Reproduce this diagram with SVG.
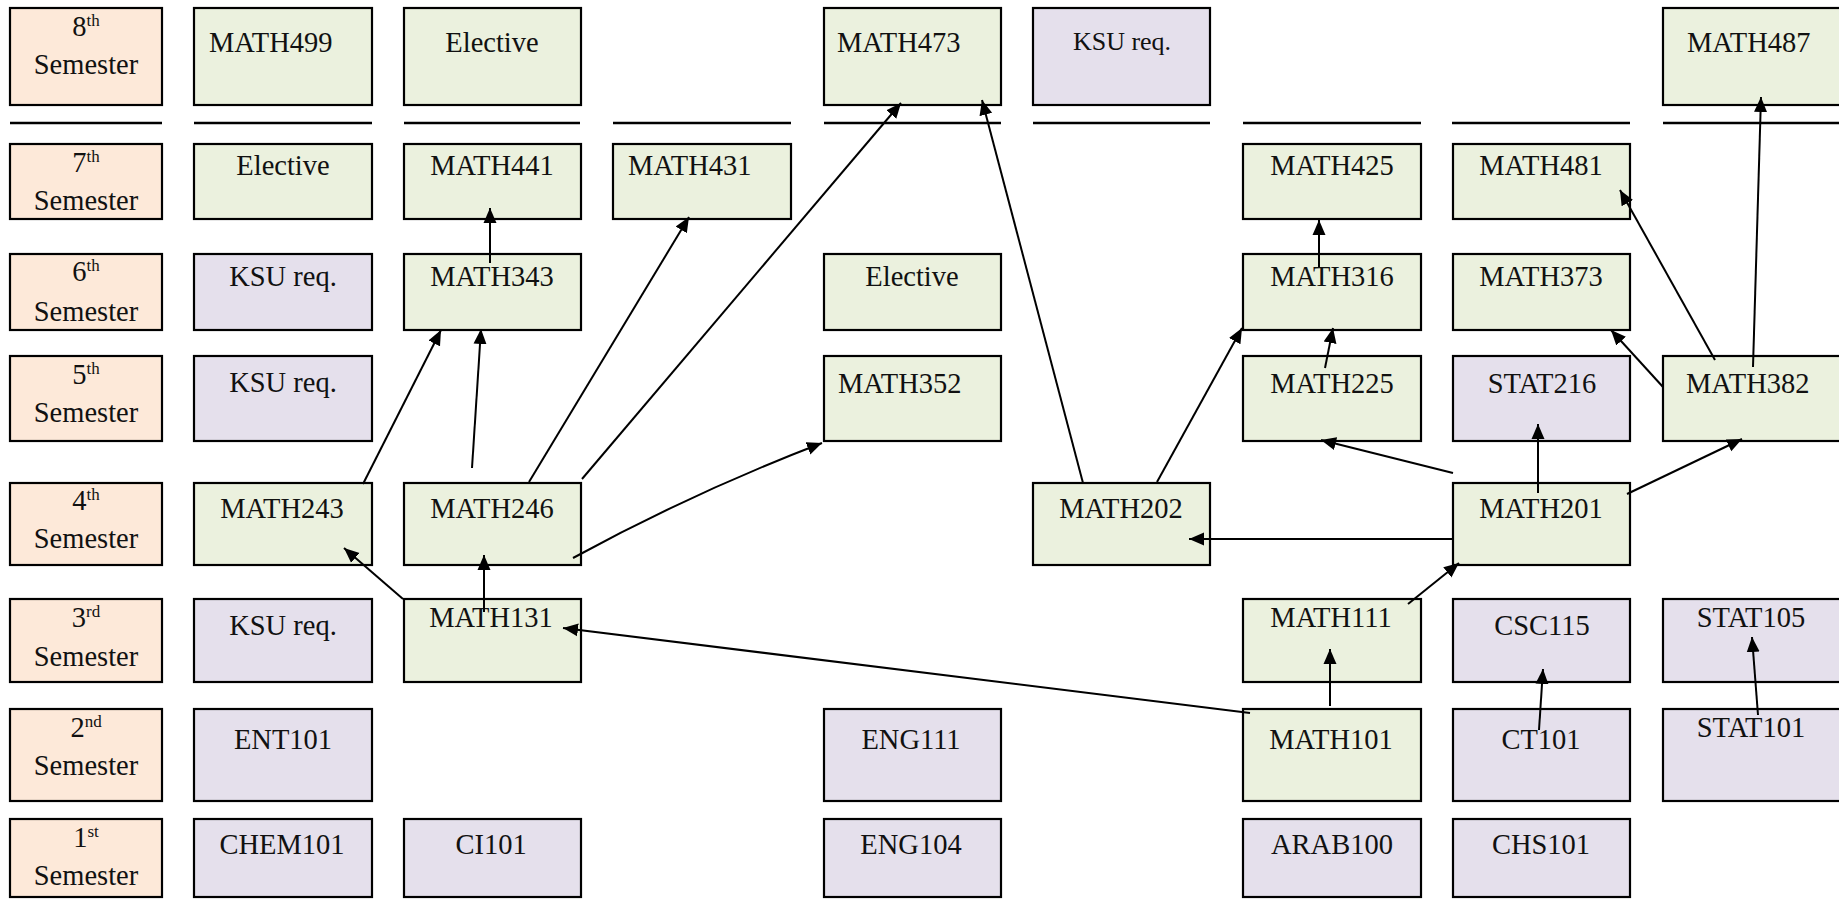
<svg xmlns="http://www.w3.org/2000/svg" width="1839" height="899" viewBox="0 0 1839 899">
<style>
rect{stroke:#000;stroke-width:2.2}
.sem rect{fill:#FDE9D9}
.g rect{fill:#EBF1DE}
.p rect{fill:#E5E0EC}
text{font-family:"Liberation Serif","Times New Roman",serif;font-size:28.5px;fill:#111}
.c{text-anchor:middle}
.sup{font-size:17px}
.sep line{stroke:#000;stroke-width:2.6}
#connectors line,#connectors path{stroke:#000;stroke-width:2;fill:none;marker-end:url(#ah)}
</style>
<defs>
<marker id="ah" markerUnits="userSpaceOnUse" markerWidth="16" markerHeight="14" refX="15" refY="7" orient="auto" viewBox="0 0 16 14">
<path d="M0,0.5 L15,7 L0,13.5 z" fill="#000"/>
</marker>
</defs>

<g class="sep">
<line x1="10" y1="123" x2="162" y2="123"/>
<line x1="194" y1="123" x2="372" y2="123"/>
<line x1="404" y1="123" x2="580" y2="123"/>
<line x1="613" y1="123" x2="791" y2="123"/>
<line x1="824" y1="123" x2="1001" y2="123"/>
<line x1="1033" y1="123" x2="1210" y2="123"/>
<line x1="1243" y1="123" x2="1421" y2="123"/>
<line x1="1452" y1="123" x2="1630" y2="123"/>
<line x1="1663" y1="123" x2="1839" y2="123"/>
</g>

<!-- Semester labels -->
<g id="sem8" class="sem"><rect x="10" y="8" width="152" height="97"/><text class="c" x="86" y="36">8<tspan class="sup" dy="-10">th</tspan></text><text class="c" x="86" y="74">Semester</text></g>
<g id="sem7" class="sem"><rect x="10" y="144" width="152" height="75"/><text class="c" x="86" y="172">7<tspan class="sup" dy="-10">th</tspan></text><text class="c" x="86" y="210">Semester</text></g>
<g id="sem6" class="sem"><rect x="10" y="254" width="152" height="76"/><text class="c" x="86" y="281">6<tspan class="sup" dy="-10">th</tspan></text><text class="c" x="86" y="321">Semester</text></g>
<g id="sem5" class="sem"><rect x="10" y="356" width="152" height="85"/><text class="c" x="86" y="384">5<tspan class="sup" dy="-10">th</tspan></text><text class="c" x="86" y="422">Semester</text></g>
<g id="sem4" class="sem"><rect x="10" y="483" width="152" height="82"/><text class="c" x="86" y="510">4<tspan class="sup" dy="-10">th</tspan></text><text class="c" x="86" y="548">Semester</text></g>
<g id="sem3" class="sem"><rect x="10" y="599" width="152" height="83"/><text class="c" x="86" y="627">3<tspan class="sup" dy="-10">rd</tspan></text><text class="c" x="86" y="666">Semester</text></g>
<g id="sem2" class="sem"><rect x="10" y="709" width="152" height="92"/><text class="c" x="86" y="737">2<tspan class="sup" dy="-10">nd</tspan></text><text class="c" x="86" y="775">Semester</text></g>
<g id="sem1" class="sem"><rect x="10" y="819" width="152" height="78"/><text class="c" x="86" y="847">1<tspan class="sup" dy="-10">st</tspan></text><text class="c" x="86" y="885">Semester</text></g>

<!-- Row 8 -->
<g id="MATH499" class="g"><rect x="194" y="8" width="178" height="97"/><text x="209" y="52">MATH499</text></g>
<g id="Elective8" class="g"><rect x="404" y="8" width="177" height="97"/><text class="c" x="492" y="52">Elective</text></g>
<g id="MATH473" class="g"><rect x="824" y="8" width="177" height="97"/><text x="837" y="52">MATH473</text></g>
<g id="KSU8" class="p"><rect x="1033" y="8" width="177" height="97"/><text class="c" x="1122" y="50" style="font-size:26px">KSU req.</text></g>
<g id="MATH487" class="g"><rect x="1663" y="8" width="178" height="97"/><text x="1687" y="52">MATH487</text></g>

<!-- Row 7 -->
<g id="Elective7" class="g"><rect x="194" y="144" width="178" height="75"/><text class="c" x="283" y="175">Elective</text></g>
<g id="MATH441" class="g"><rect x="404" y="144" width="177" height="75"/><text class="c" x="492" y="175">MATH441</text></g>
<g id="MATH431" class="g"><rect x="613" y="144" width="178" height="75"/><text x="628" y="175">MATH431</text></g>
<g id="MATH425" class="g"><rect x="1243" y="144" width="178" height="75"/><text class="c" x="1332" y="175">MATH425</text></g>
<g id="MATH481" class="g"><rect x="1453" y="144" width="177" height="75"/><text class="c" x="1541" y="175">MATH481</text></g>

<!-- Row 6 -->
<g id="KSU6" class="p"><rect x="194" y="254" width="178" height="76"/><text class="c" x="283" y="286">KSU req.</text></g>
<g id="MATH343" class="g"><rect x="404" y="254" width="177" height="76"/><text class="c" x="492" y="286">MATH343</text></g>
<g id="Elective6" class="g"><rect x="824" y="254" width="177" height="76"/><text class="c" x="912" y="286">Elective</text></g>
<g id="MATH316" class="g"><rect x="1243" y="254" width="178" height="76"/><text class="c" x="1332" y="286">MATH316</text></g>
<g id="MATH373" class="g"><rect x="1453" y="254" width="177" height="76"/><text class="c" x="1541" y="286">MATH373</text></g>

<!-- Row 5 -->
<g id="KSU5" class="p"><rect x="194" y="356" width="178" height="85"/><text class="c" x="283" y="392">KSU req.</text></g>
<g id="MATH352" class="g"><rect x="824" y="356" width="177" height="85"/><text x="838" y="393">MATH352</text></g>
<g id="MATH225" class="g"><rect x="1243" y="356" width="178" height="85"/><text class="c" x="1332" y="393">MATH225</text></g>
<g id="STAT216" class="p"><rect x="1453" y="356" width="177" height="85"/><text class="c" x="1542" y="393">STAT216</text></g>
<g id="MATH382" class="g"><rect x="1663" y="356" width="178" height="85"/><text x="1686" y="393">MATH382</text></g>

<!-- Row 4 -->
<g id="MATH243" class="g"><rect x="194" y="483" width="178" height="82"/><text class="c" x="282" y="518">MATH243</text></g>
<g id="MATH246" class="g"><rect x="404" y="483" width="177" height="82"/><text class="c" x="492" y="518">MATH246</text></g>
<g id="MATH202" class="g"><rect x="1033" y="483" width="177" height="82"/><text class="c" x="1121" y="518">MATH202</text></g>
<g id="MATH201" class="g"><rect x="1453" y="483" width="177" height="82"/><text class="c" x="1541" y="518">MATH201</text></g>

<!-- Row 3 -->
<g id="KSU3" class="p"><rect x="194" y="599" width="178" height="83"/><text class="c" x="283" y="635">KSU req.</text></g>
<g id="MATH131" class="g"><rect x="404" y="599" width="177" height="83"/><text class="c" x="491" y="627">MATH131</text></g>
<g id="MATH111" class="g"><rect x="1243" y="599" width="178" height="83"/><text class="c" x="1331" y="627">MATH111</text></g>
<g id="CSC115" class="p"><rect x="1453" y="599" width="177" height="83"/><text class="c" x="1542" y="635">CSC115</text></g>
<g id="STAT105" class="p"><rect x="1663" y="599" width="178" height="83"/><text class="c" x="1751" y="627">STAT105</text></g>

<!-- Row 2 -->
<g id="ENT101" class="p"><rect x="194" y="709" width="178" height="92"/><text class="c" x="283" y="749">ENT101</text></g>
<g id="ENG111" class="p"><rect x="824" y="709" width="177" height="92"/><text class="c" x="911" y="749">ENG111</text></g>
<g id="MATH101" class="g"><rect x="1243" y="709" width="178" height="92"/><text class="c" x="1331" y="749">MATH101</text></g>
<g id="CT101" class="p"><rect x="1453" y="709" width="177" height="92"/><text class="c" x="1541" y="749">CT101</text></g>
<g id="STAT101" class="p"><rect x="1663" y="709" width="178" height="92"/><text class="c" x="1751" y="737">STAT101</text></g>

<!-- Row 1 -->
<g id="CHEM101" class="p"><rect x="194" y="819" width="178" height="78"/><text class="c" x="282" y="854">CHEM101</text></g>
<g id="CI101" class="p"><rect x="404" y="819" width="177" height="78"/><text class="c" x="491" y="854">CI101</text></g>
<g id="ENG104" class="p"><rect x="824" y="819" width="177" height="78"/><text class="c" x="911" y="854">ENG104</text></g>
<g id="ARAB100" class="p"><rect x="1243" y="819" width="178" height="78"/><text class="c" x="1332" y="854">ARAB100</text></g>
<g id="CHS101" class="p"><rect x="1453" y="819" width="177" height="78"/><text class="c" x="1541" y="854">CHS101</text></g>

<g id="connectors">
<line x1="490" y1="263" x2="490" y2="208"/>
<line x1="363" y1="484" x2="441" y2="330"/>
<line x1="472" y1="468" x2="481" y2="329"/>
<line x1="529" y1="482" x2="689" y2="217"/>
<line x1="582" y1="479" x2="901" y2="103"/>
<path d="M573,558 Q692,493 822,443"/>
<line x1="403" y1="599" x2="344" y2="548"/>
<line x1="484" y1="612" x2="484" y2="555"/>
<line x1="1250" y1="713" x2="563" y2="628"/>
<line x1="1330" y1="706" x2="1330" y2="649"/>
<line x1="1408" y1="604" x2="1459" y2="563"/>
<line x1="1453" y1="539" x2="1189" y2="539"/>
<line x1="1453" y1="473" x2="1321" y2="440"/>
<line x1="1538" y1="493" x2="1538" y2="424"/>
<line x1="1627" y1="494" x2="1742" y2="439"/>
<line x1="1663" y1="387" x2="1611" y2="330"/>
<line x1="1715" y1="360" x2="1620" y2="190"/>
<line x1="1753" y1="367" x2="1761" y2="97"/>
<line x1="1325" y1="368" x2="1333" y2="328"/>
<line x1="1319" y1="267" x2="1319" y2="220"/>
<line x1="1157" y1="482" x2="1242" y2="328"/>
<line x1="1083" y1="483" x2="982" y2="100"/>
<line x1="1539" y1="730" x2="1543" y2="669"/>
<line x1="1758" y1="715" x2="1752" y2="637"/>
</g>
</svg>
